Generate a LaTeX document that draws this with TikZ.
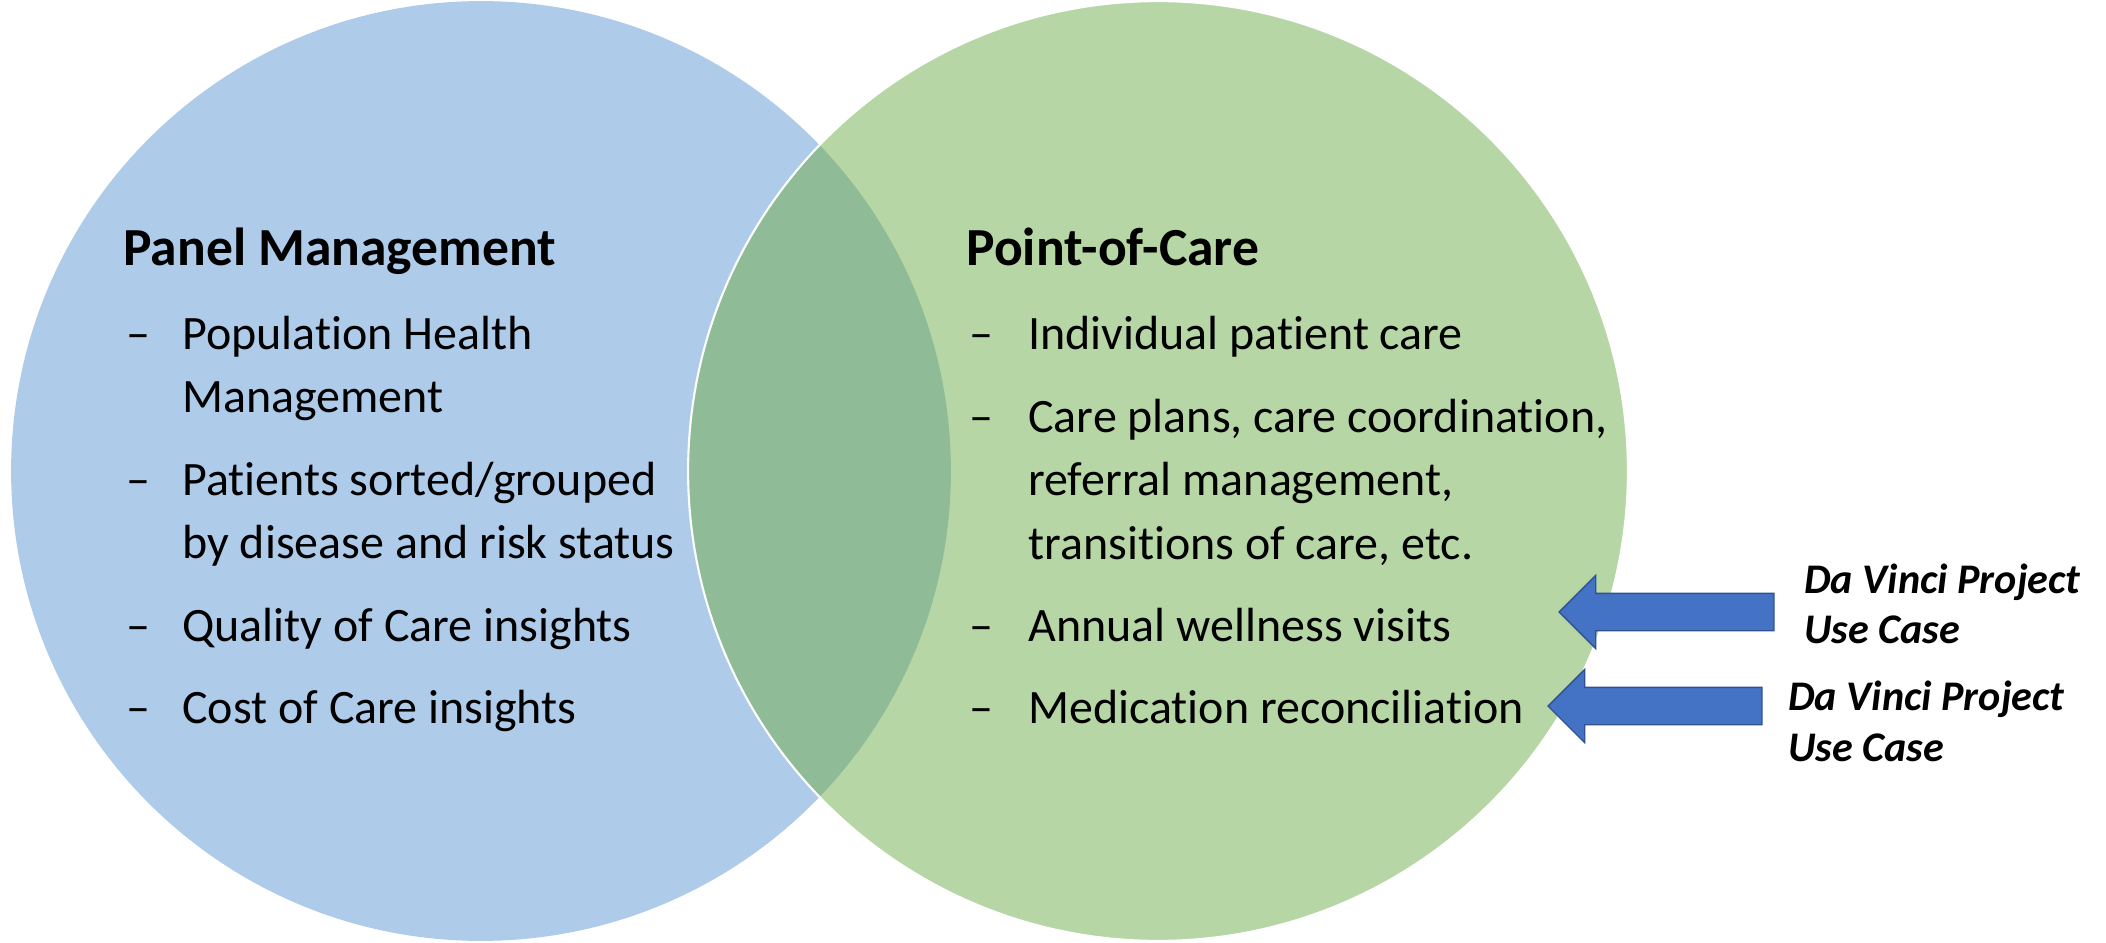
\documentclass[tikz,border=0pt]{standalone}
\usepackage{fontspec}
\setmainfont{Carlito}[Ligatures=NoCommon]
\usetikzlibrary{shapes.arrows}
\definecolor{panelblue}{RGB}{174,203,233}
\definecolor{caregreen}{RGB}{182,214,166}
\definecolor{overlap}{RGB}{143,188,150}
\definecolor{arrowblue}{RGB}{68,114,196}
\definecolor{arrowedge}{RGB}{47,82,143}
\tikzset{
    area/.style={
           circle,
           minimum size=18.8cm,
           inner sep=0pt,
           },
    heading/.style={
           anchor=base west,
           inner sep=0pt,
           font=\fontsize{30.5}{36}\selectfont\bfseries,
           },
    item/.style={
           anchor=base west,
           inner sep=0pt,
           font=\fontsize{27.3}{32}\selectfont,
           },
    usecase/.style={
           anchor=base west,
           inner sep=0pt,
           font=\fontsize{24}{28}\selectfont\bfseries\itshape,
           },
    pointer/.style={
           single arrow,
           shape border rotate=180,
           fill=arrowblue, draw=arrowedge, line width=0.8pt,
           text height=0pt, text depth=0pt,
           inner xsep=0pt, inner ysep=0.36cm,
           minimum width=0pt,
           single arrow head extend=0.36cm,
           single arrow tip angle=90,
           anchor=tip,
           },
}

\begin{document}
\begin{tikzpicture}[x=0.02cm, y=-0.02cm]
    \useasboundingbox (0,0) rectangle (2106,943);

    % the two circles
    \node[area, fill=panelblue] (panel) at (481,471) {};
    \node[area, fill=caregreen] (care) at (1158,471) {};
    % the overlap
    \begin{scope}
        \clip (panel.center) circle (9.4cm);
        \fill[overlap] (care.center) circle (9.4cm);
    \end{scope}
    \draw[white, line width=1.2pt] (care.center) circle (9.4cm);

    % Panel Management
    \node[heading] (pmtitle) at (123,265) {Panel Management};
    \node[item] (pmdash1) at (126,349) {\textendash};
    \node[item] (pmpop)   at (182,349) {Population Health};
    \node[item] (pmpop2)  at ([yshift=-1.28cm]pmpop.base west) {Management};
    \node[item] (pmdash2) at (126,495) {\textendash};
    \node[item] (pmsort)  at (182,495) {Patients sorted/grouped};
    \node[item] (pmsort2) at ([yshift=-1.28cm]pmsort.base west) {by disease and risk status};
    \node[item] (pmdash3) at (126,641) {\textendash};
    \node[item] (pmqual)  at (182,641) {Quality of Care insights};
    \node[item] (pmdash4) at (126,723) {\textendash};
    \node[item] (pmcost)  at (182,723) {Cost of Care insights};

    % Point-of-Care
    \node[heading] (pctitle) at (966,265) {Point-of-Care};
    \node[item] (pcdash1) at (969,349) {\textendash};
    \node[item] (pcind)   at (1028,349) {Individual patient care};
    \node[item] (pcdash2) at (969,432) {\textendash};
    \node[item] (pcplan)  at (1028,432) {Care plans, care coordination,};
    \node[item] (pcplan2) at ([yshift=-1.28cm]pcplan.base west) {referral management,};
    \node[item] (pcplan3) at ([yshift=-1.28cm]pcplan2.base west) {transitions of care, etc.};
    \node[item] (pcdash3) at (969,641) {\textendash};
    \node[item] (pcwell)  at (1028,641) {Annual wellness visits};
    \node[item] (pcdash4) at (969,723) {\textendash};
    \node[item] (pcmed)   at (1028,723) {Medication reconciliation};

    % Da Vinci arrows
    \node[pointer, minimum height=4.3cm] (arrowwell) at (1558,612) {};
    \node[usecase] (dvwell)  at (1804,593) {Da Vinci Project};
    \node[usecase] (dvwell2) at ([yshift=-1.02cm]dvwell.base west) {Use Case};

    \node[pointer, minimum height=4.28cm] (arrowmed) at (1547,706) {};
    \node[usecase] (dvmed)  at (1788,710) {Da Vinci Project};
    \node[usecase] (dvmed2) at ([yshift=-1.02cm]dvmed.base west) {Use Case};
\end{tikzpicture}
\end{document}
